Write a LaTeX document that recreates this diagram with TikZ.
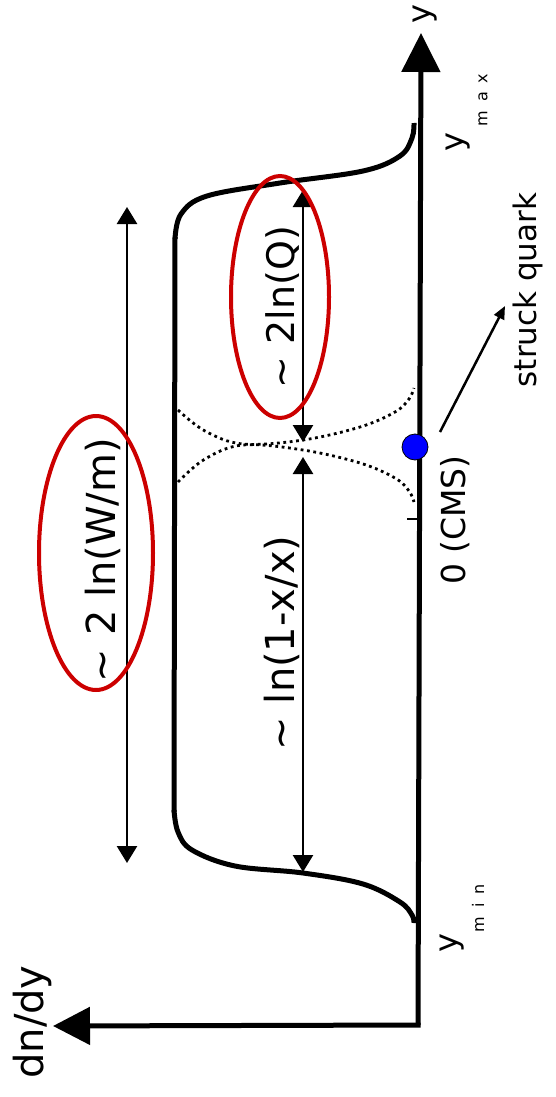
\documentclass[tikz,border=0pt]{standalone}
\usepackage{fontspec}
\setmainfont{DejaVu Sans}
\usetikzlibrary{arrows.meta}
\definecolor{ovalred}{RGB}{204,0,0}
\definecolor{dotblue}{RGB}{0,0,255}
\newcommand{\spacedsub}[3]{#1\hspace{9pt}#2\hspace{9pt}#3}
\tikzset{
  axis/.style={line width=5pt},
  profile/.style={line width=5pt},
  span/.style={line width=2.6pt,
    {Triangle[length=17pt,width=20pt]}-{Triangle[length=17pt,width=20pt]}},
  tail/.style={line width=2.8pt, dash pattern=on 2.8pt off 3.6pt},
  oval/.style={draw=ovalred, line width=4pt},
  lbl/.style={rotate=90, inner sep=0pt, font=\fontsize{40}{46}\selectfont},
  sublbl/.style={rotate=90, inner sep=0pt, font=\fontsize{16}{18}\selectfont},
}
\begin{document}
\begin{tikzpicture}[x=1pt,y=-1pt]
\useasboundingbox (0,0) rectangle (556,1097);

% axes
\coordinate (origin) at (418,1025);
\coordinate (ytip) at (421,33);
\coordinate (xtip) at (53,1026);
\draw[axis,-{Triangle[length=39pt,width=38pt]}] (origin) -- (ytip);
\draw[axis,-{Triangle[length=37pt,width=37pt]}] ([xshift=2.5pt]origin) -- (xtip);

% rapidity distribution: plateau with falling edges
\draw[profile] (174,812) -- (175,237);
\draw[profile] plot[smooth,tension=0.6] coordinates
  {(175,239) (181,214) (207,196) (280,183) (363,171) (400,156) (412,138) (414,123)};
\draw[profile] plot[smooth,tension=0.6] coordinates
  {(174,810) (178,832) (192,850) (235,866) (303,873) (363,884) (400,902) (412,915) (414,923)};

% fragmentation tails around the struck quark
\draw[tail] plot[smooth,tension=0.6] coordinates
  {(178,410) (205,431) (243,444) (303,440) (360,427) (395,412) (409,399) (414,388)};
\draw[tail] plot[smooth,tension=0.6] coordinates
  {(178,482) (205,459) (243,445) (303,450) (360,463) (395,478) (409,491) (414,502)};

% tick at zero and struck quark marker
\coordinate (tick) at (407,519);
\draw[line width=2.5pt] (tick) -- (tick -| origin);
\node[circle, fill=dotblue, draw=black, line width=0.8pt, minimum size=26pt, inner sep=0pt] (quarkdot) at (415,447) {};

% interval arrows
\coordinate (wtop) at (127,207);
\coordinate (wbot) at (127,863);
\draw[span] (wtop) -- (wbot);
\coordinate (qtop) at (303,190);
\coordinate (qbot) at (303,442);
\draw[span] (qtop) -- (qbot);
\coordinate (xtop) at (303,457);
\coordinate (xbot) at (303,872);
\draw[span] (xtop) -- (xbot);

% labels
\node[lbl] (lw) at (103,560) {∼ 2 ln(W/m)};
\node[lbl, font=\fontsize{38}{44}\selectfont] (lq) at (283,307) {∼ 2ln(Q)};
\node[lbl] (lx) at (282,643) {∼ ln(1-x/x)};
\node[lbl, font=\fontsize{31}{36}\selectfont] (quark) at (528,290) {struck quark};
\node[lbl, font=\fontsize{33}{38}\selectfont] (cms) at (455,520) {0 (CMS)};
\node[lbl] (dndy) at (32,1022) {dn/dy};
\node[lbl, font=\fontsize{32}{36}\selectfont] (yaxis) at (425,14) {y};
\node[lbl, font=\fontsize{32}{36}\selectfont] (ymax) at (458,142) {y};
\node[sublbl] (ymaxsub) at (483,100) {\spacedsub{m}{a}{x}};
\node[lbl, font=\fontsize{32}{36}\selectfont] (ymin) at (452,943) {y};
\node[sublbl] (yminsub) at (478,908) {\spacedsub{m}{i}{n}};

% pointer from the marker to its label
\coordinate (qfrom) at (440,432);
\coordinate (qto) at (505,306);
\draw[line width=2.5pt,-{Triangle[length=13pt,width=11pt]}] (qfrom) -- (qto);

% highlighted quantities
\draw[oval] (96,553) ellipse [x radius=57, y radius=137];
\draw[oval] (280,297) ellipse [x radius=49, y radius=121];
\end{tikzpicture}
\end{document}
